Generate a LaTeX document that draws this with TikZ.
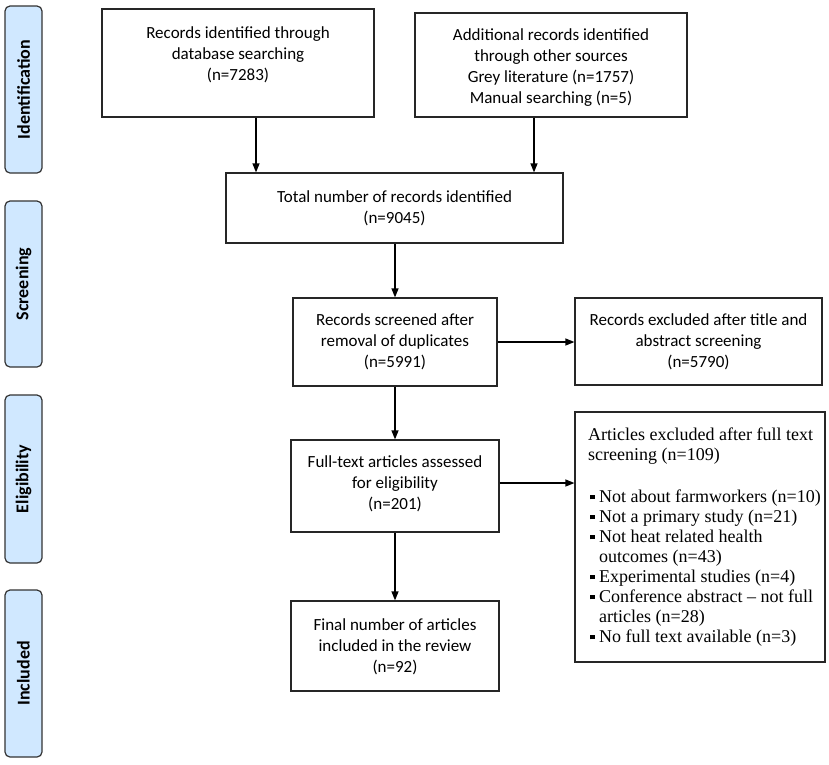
\documentclass[tikz,border=0pt]{standalone}
\usepackage{fontspec}
\setmainfont{Carlito}
\newfontfamily\tnr[Ligatures=TeX]{Liberation Serif}
\usetikzlibrary{arrows.meta}
\definecolor{barfill}{RGB}{208,232,255}
\begin{document}
\begin{tikzpicture}[x=1pt,y=-1pt,
  box/.style={draw=black!85, line width=1.2pt, rectangle, inner sep=0pt},
  txt/.style={align=center, inner sep=0pt, font=\fontsize{17}{21}\selectfont},
  bar/.style={draw=black!80, line width=1.2pt, fill=barfill, rounded corners=5pt, inner sep=0pt, rotate=90, font=\fontsize{18}{22}\selectfont\bfseries},
  arr/.style={-{Triangle[length=9pt,width=7pt]}, line width=1.2pt}]
\useasboundingbox (0,0) rectangle (829,764);

% side bars
\node[bar, minimum width=167pt, minimum height=37pt] (s1) at (23.5,89.5) {Identification};
\node[bar, minimum width=166pt, minimum height=37pt] (s2) at (23.5,284) {Screening};
\node[bar, minimum width=168pt, minimum height=37pt] (s3) at (23.5,479) {Eligibility};
\node[bar, minimum width=167pt, minimum height=37pt] (s4) at (23.5,673.5) {Included};

% boxes
\node[box, minimum width=272pt, minimum height=108pt] (b1) at (238,63) {};
\node[txt] (t1) at (238,55) {Records identified through\\database searching\\(n=7283)};

\node[box, minimum width=272pt, minimum height=104pt] (b2) at (551,65) {};
\node[txt] (t2) at (551,68) {Additional records identified\\through other sources\\Grey literature (n=1757)\\Manual searching (n=5)};

\node[box, minimum width=337pt, minimum height=70pt] (b3) at (394.5,208) {};
\node[txt] (t3) at (394.5,208) {Total number of records identified\\(n=9045)};

\node[box, minimum width=204pt, minimum height=88pt] (b4) at (395,342) {};
\node[txt] (t4) at (395,342) {Records screened after\\removal of duplicates\\(n=5991)};

\node[box, minimum width=247pt, minimum height=87pt] (b5) at (698.5,341.5) {};
\node[txt] (t5) at (698.5,342) {Records excluded after title and\\abstract screening\\(n=5790)};

\node[box, minimum width=208pt, minimum height=92pt] (b6) at (395,486) {};
\node[txt] (t6) at (395,484) {Full-text articles assessed\\for eligibility\\(n=201)};

\node[box, minimum width=250pt, minimum height=250pt] (b7) at (700,537) {};
\newcommand{\blt}{\hspace*{2pt}\makebox[9pt][l]{\rule[3.5pt]{4.5pt}{4.5pt}}}
\newcommand{\ind}{\hspace*{11pt}}
\node[align=left, inner sep=0pt, anchor=north west, font=\tnr\fontsize{18}{20}\selectfont] (t7) at (588,428)
{Articles excluded after full text\\
screening (n=109)\\[22pt]
\blt Not about farmworkers (n=10)\\
\blt Not a primary study (n=21)\\
\blt Not heat related health\\
\ind outcomes (n=43)\\
\blt Experimental studies (n=4)\\
\blt Conference abstract – not full\\
\ind articles (n=28)\\
\blt No full text available (n=3)};

\node[box, minimum width=208pt, minimum height=90pt] (b8) at (395,646) {};
\node[txt] (t8) at (395,647) {Final number of articles\\included in the review\\(n=92)};

% connectors
\coordinate (a1) at (256,0);
\coordinate (a2) at (534,0);
\coordinate (a3) at (0,483);
\draw[arr] (b1.south -| a1) -- (b3.north -| a1);
\draw[arr] (b2.south -| a2) -- (b3.north -| a2);
\draw[arr] (b4.north |- b3.south) -- (b4.north);
\draw[arr] (b4.east) -- (b5.west |- b4.east);
\draw[arr] (b4.south) -- (b6.north);
\draw[arr] (b6.east |- a3) -- (b7.west |- a3);
\draw[arr] (b6.south) -- (b8.north);
\end{tikzpicture}
\end{document}
